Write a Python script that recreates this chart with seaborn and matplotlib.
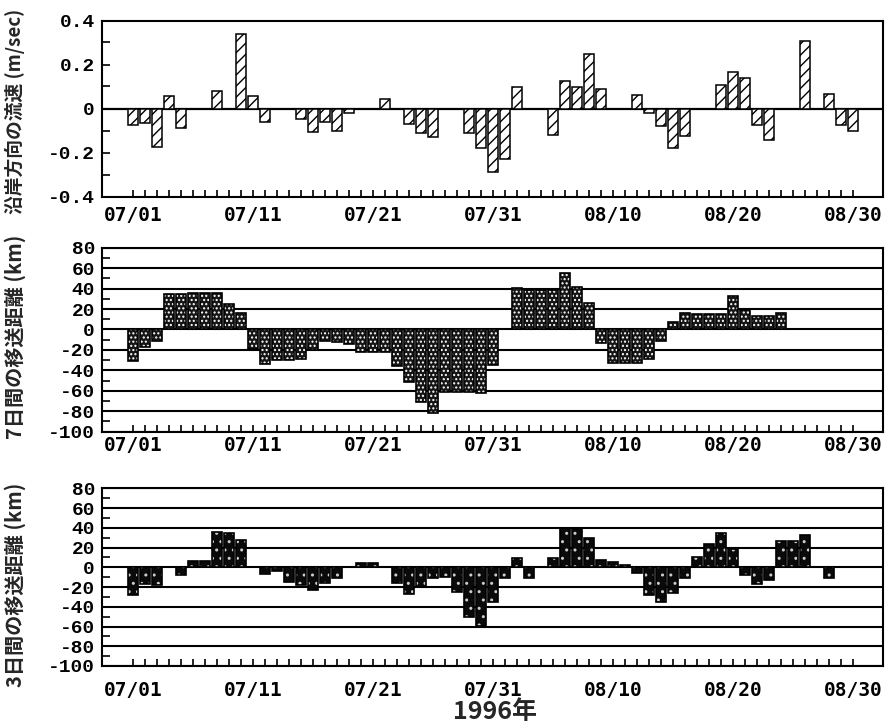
import numpy as np
import pandas as pd
import matplotlib
matplotlib.use("Agg")
import matplotlib.pyplot as plt
import seaborn as sns
from matplotlib.ticker import MultipleLocator

# ---------------- data ----------------
days = [d.strftime("%m/%d") for d in pd.date_range("1996-07-01", "1996-08-30")]
xtick_labels = ["07/01", "07/11", "07/21", "07/31", "08/10", "08/20", "08/30"]

# alongshore current velocity (m/sec), one value per day (None = no bar)
velocity = [
    -0.075, -0.065, -0.175, 0.057, -0.09, None, None, 0.079, None, 0.338,
    0.057, -0.062, None, None, -0.048, -0.108, -0.062, -0.10, -0.02, None,
    None, 0.045, None, -0.07, -0.11, -0.13, None, None, -0.11, -0.18,
    -0.29, -0.23, 0.10, None, None, -0.12, 0.124, 0.10, 0.25, 0.09,
    None, None, 0.06, -0.02, -0.08, -0.18, -0.125, None, None, 0.106,
    0.166, 0.139, -0.076, -0.144, None, None, 0.306, None, 0.064, -0.076,
    -0.10,
]

# 7-day transport distance (km)
transport7 = [
    -31, -17, -11.5, 34.4, 34.4, 36, 36, 36, 25, 15.9,
    -19, -34, -29.5, -29.5, -29, -20, -11.5, -12, -14, -22.5,
    -22.5, -22.5, -36, -51.5, -71, -81.5, -61, -61, -61, -62,
    -35, None, 41, 39, 39, 39, 55, 42, 25.5, -13,
    -32.5, -32.5, -32.5, -28.5, -11.5, 7, 16.5, 15.5, 15.5, 15.5,
    33, 19, 13, 13, 16.5, None, None, None, None, None,
    None,
]

# 3-day transport distance (km)
transport3 = [
    -28, -17, -18, None, -7.5, 6.8, 6.8, 36, 35, 28,
    None, -6.8, -4, -14.6, -18, -23, -16, -10.8, None, 4,
    4, None, -16, -27, -20, -10.8, -9.5, -25.4, -50, -59,
    -35, -10.5, 9, -11, None, 9, 40, 39, 29.5, 7.5,
    5.8, 2.4, -6, -28, -35, -26, -10.5, 10, 23.4, 34.6,
    19, -8, -17, -13, 27, 27, 32.5, None, -11, None,
    None,
]

ylabels = ["沿岸方向の流速 (m/sec)", "7日間の移送距離 (km)", "3日間の移送距離 (km)"]
xlabel = "1996年"
vel_ticks = [-0.4, -0.2, 0, 0.2, 0.4]
vel_ticklabels = ["-0.4", "-0.2", "0", "0.2", "0.4"]
km_ticks = [-100, -80, -60, -40, -20, 0, 20, 40, 60, 80]
km_ticklabels = ["-100", "-80", "-60", "-40", "-20", "0", "20", "40", "60", "80"]

# ---------------- style ----------------
sns.set_style("white")
plt.rcParams["font.family"] = ["DejaVu Sans", "Noto Sans CJK JP"]
plt.rcParams["hatch.linewidth"] = 1.0
plt.rcParams["axes.linewidth"] = 1.5

W, H = 885, 727
fig = plt.figure(figsize=(W / 100, H / 100), dpi=100)


def add_ax(top, bottom, left=102, right=883):
    return fig.add_axes([left / W, 1 - bottom / H, (right - left) / W, (bottom - top) / H])


ax1 = add_ax(20.5, 196.5)
ax2 = add_ax(247.7, 431.7)
ax3 = add_ax(488.3, 666)

TICKFONT_X = dict(fontfamily="DejaVu Sans Mono", fontsize=14, fontweight="bold")
TICKFONT_Y = dict(fontfamily="Liberation Mono", fontsize=14, fontweight="bold")
LABELFONT = dict(family=["Noto Sans CJK JP", "DejaVu Sans"], fontsize=14.5, fontweight="bold")


def frame(values):
    return pd.DataFrame({"day": days, "value": values}).dropna()


# panel 1: hatched velocity bars
sns.barplot(data=frame(velocity), x="day", y="value", order=days, color="white",
            edgecolor="black", hatch="///", linewidth=1.1, errorbar=None,
            saturation=1, width=0.8, ax=ax1)
ax1.axhline(0, color="black", lw=1.6, zorder=0.5)

# panel 2: dark dotted bars
sns.barplot(data=frame(transport7), x="day", y="value", order=days, color="#151515",
            edgecolor="white", hatch="....", linewidth=0, errorbar=None,
            saturation=1, width=0.8, ax=ax2)
sns.barplot(data=frame(transport7), x="day", y="value", order=days, color="black",
            fill=False, linewidth=1.2, errorbar=None, saturation=1, width=0.8, ax=ax2)

# panel 3: nearly black bars with sparse light specks
sns.barplot(data=frame(transport3), x="day", y="value", order=days, color="#0a0a0a",
            edgecolor="#cccccc", hatch="..", linewidth=0, errorbar=None,
            saturation=1, width=0.8, ax=ax3)
sns.barplot(data=frame(transport3), x="day", y="value", order=days, color="black",
            fill=False, linewidth=1.2, errorbar=None, saturation=1, width=0.8, ax=ax3)

xpos = [days.index(lbl) for lbl in xtick_labels]
for ax, pad in ((ax1, 7), (ax2, 3), (ax3, 11)):
    ax.set_xlim(-2.6, 62.5)
    ax.set_xticks(xpos, xtick_labels, **TICKFONT_X)
    ax.set_xticks(range(len(days)), minor=True)
    ax.set_xlabel("")
    ax.set_ylabel("")
    ax.tick_params(axis="x", which="both", direction="in", length=5, width=1.2,
                   pad=pad, bottom=True, top=False, colors="black")
    ax.tick_params(axis="y", which="both", direction="in", length=6, width=1.2,
                   pad=5, left=True, right=False, colors="black")
    for s in ax.spines.values():
        s.set_color("black")
        s.set_linewidth(1.5)
        s.set_visible(True)

ax1.set_ylim(-0.4, 0.4)
ax1.set_yticks(vel_ticks, vel_ticklabels, **TICKFONT_Y)
ax1.yaxis.set_minor_locator(MultipleLocator(0.1))

for ax in (ax2, ax3):
    ax.set_ylim(-100, 80)
    ax.set_yticks(km_ticks, km_ticklabels, **TICKFONT_Y)
    ax.yaxis.set_minor_locator(MultipleLocator(10))
    ax.grid(axis="y", which="major", color="black", lw=1.5)
    ax.grid(axis="x", visible=False)
    ax.set_axisbelow(True)

# axis titles
label1_font = dict(LABELFONT, fontsize=13.5)
fig.text(15 / W, 1 - 111 / H, ylabels[0], rotation=90, ha="center", va="center", **label1_font)
fig.text(15 / W, 1 - 337 / H, ylabels[1], rotation=90, ha="center", va="center", **LABELFONT)
fig.text(15 / W, 1 - 585 / H, ylabels[2], rotation=90, ha="center", va="center", **LABELFONT)
fig.text(495 / W, 1 - 712 / H, xlabel, ha="center", va="center",
         family=["Noto Sans CJK JP", "DejaVu Sans"], fontsize=18, fontweight="bold")

fig.savefig("out.png", dpi=100)
